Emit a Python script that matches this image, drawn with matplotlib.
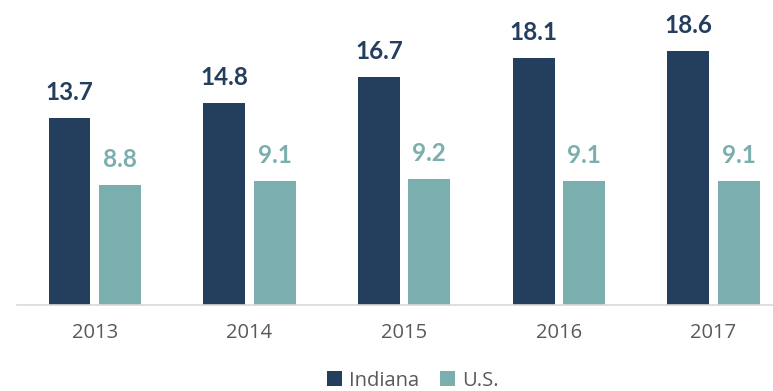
import matplotlib.pyplot as plt
import numpy as np

years = ["2013", "2014", "2015", "2016", "2017"]
indiana = [13.7, 14.8, 16.7, 18.1, 18.6]
us = [8.8, 9.1, 9.2, 9.1, 9.1]

col_in = "#243F5E"
col_us = "#7BAFAF"
col_txt = "#595959"

plt.rcParams["font.family"] = ["Open Sans", "DejaVu Sans"]

fig = plt.figure(figsize=(7.73, 3.91), dpi=100)
ax = fig.add_axes([17.4 / 773, (391 - 305) / 391, 773.5 / 773, 305 / 391])

x = np.arange(len(years))
w = 0.27
off = 0.163
b1 = ax.bar(x - off, indiana, w, color=col_in, label="Indiana")
b2 = ax.bar(x + off, us, w, color=col_us, label="U.S.")

# value labels above each bar, same colour as the bar
for bars, vals, c in [(b1, indiana, col_in), (b2, us, col_us)]:
    for r, v in zip(bars, vals):
        ax.annotate(f"{v:.1f}", (r.get_x() + r.get_width() / 2, v),
                    xytext=(0, 13), textcoords="offset points",
                    ha="center", va="baseline", fontsize=17.5,
                    fontweight="bold", color=c, family=["Lato", "DejaVu Sans"])

ax.set_xlim(-0.5, 4.5)
ax.set_ylim(0, 305 / 13.65)
ax.set_xticks(x)
ax.set_xticklabels(years, fontsize=14.5, color=col_txt)
ax.tick_params(axis="x", length=0, pad=13)
ax.set_yticks([])
for s in ["top", "right", "left"]:
    ax.spines[s].set_visible(False)
ax.spines["bottom"].set_color("#D9D9D9")
ax.spines["bottom"].set_linewidth(1.2)

leg = fig.legend(loc="center", bbox_to_anchor=(0.534, 0.026), ncol=2,
                 frameon=False, fontsize=14.5, handlelength=0.75,
                 handleheight=0.75, handletextpad=0.35, columnspacing=1.0,
                 borderpad=0)
for t in leg.get_texts():
    t.set_color(col_txt)

fig.savefig("out.png", dpi=100)
